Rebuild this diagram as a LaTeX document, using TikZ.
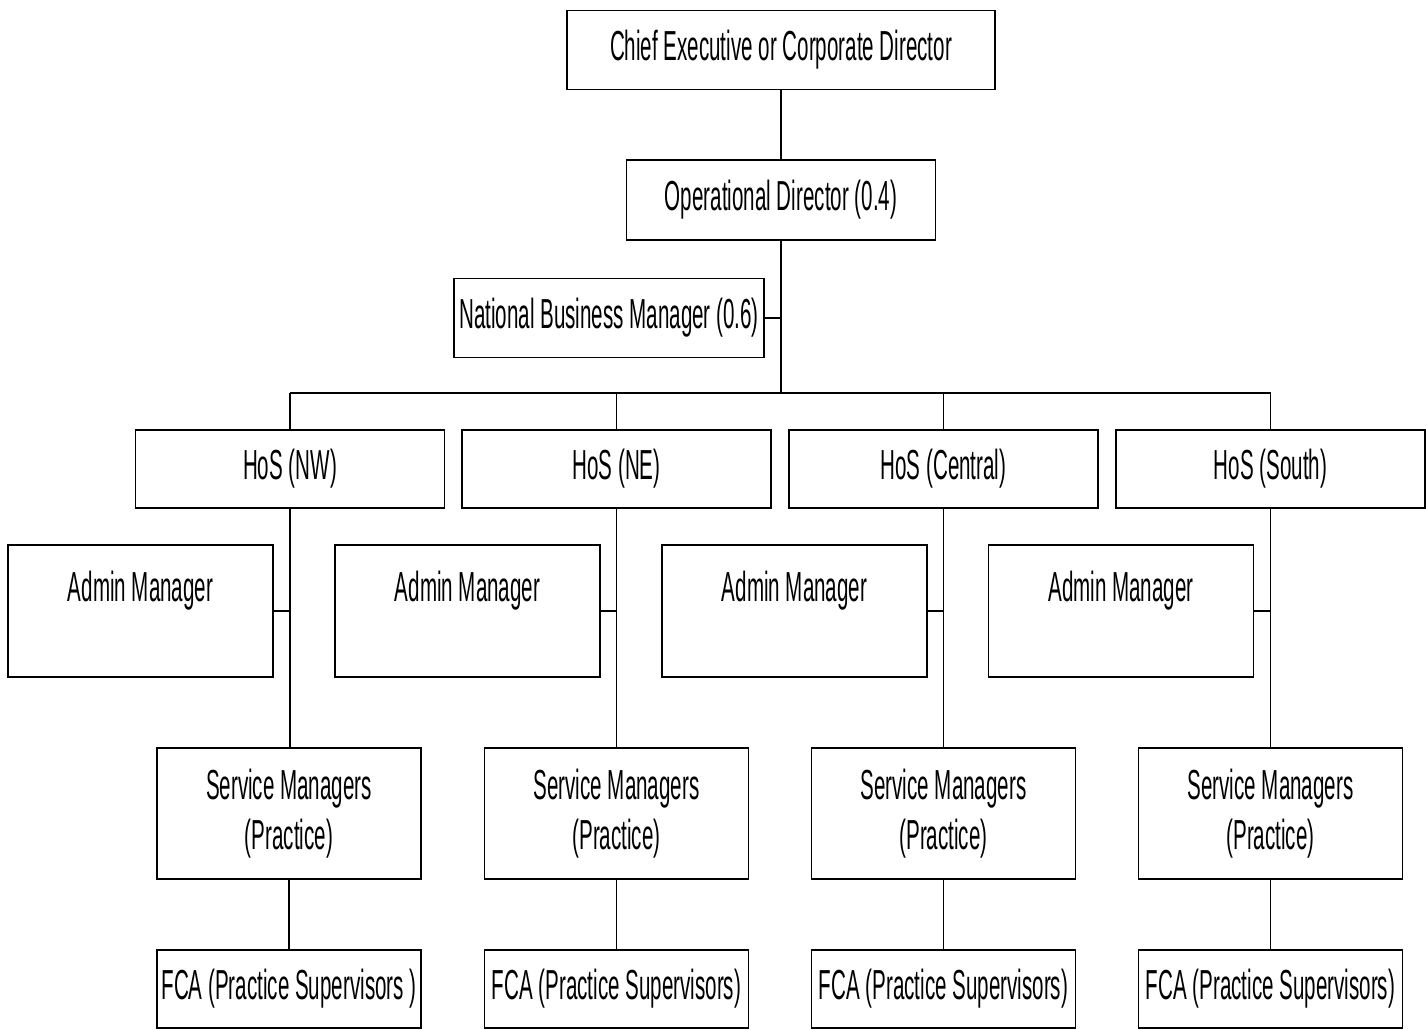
\documentclass[tikz,border=0pt]{standalone}
\usepackage{fontspec}
\setmainfont{Liberation Sans}[FakeStretch=0.49]
\usepackage{tikz}
\usetikzlibrary{positioning,calc}

\begin{document}
\begin{tikzpicture}[x=1pt,y=-1pt,
    box/.style={draw=black,line width=1.5pt,inner sep=0pt,align=center,
      font=\fontsize{42}{50}\selectfont,minimum width=#1},
    box/.default=309pt,
    link/.style={draw=black,line width=1.4pt}
]
\useasboundingbox (0,0) rectangle (1426,1030);
% top of the chart
\node[box=428pt,minimum height=79pt] (chief) at (781,50) {Chief Executive or Corporate Director};
\node[box=309pt,minimum height=80pt] (ops) at (781,200) {Operational Director (0.4)};
\node[box=310pt,minimum height=79pt] (nbm) at (609,318) {National Business Manager (0.6)};
\coordinate (bus) at (781,393);

% heads of service
\node[box,minimum height=78pt] (hosNW) at (290,469) {HoS (NW)};
\node[box,minimum height=78pt] (hosNE) at (616.5,469) {HoS (NE)};
\node[box,minimum height=78pt] (hosC) at (943.5,469) {HoS (Central)};
\node[box,minimum height=78pt] (hosS) at (1270.5,469) {HoS (South)};

% admin managers
\node[box=265pt,minimum height=132pt] (admNW) at (140.5,611) {Admin Manager\\~};
\node[box=265pt,minimum height=132pt] (admNE) at (467.5,611) {Admin Manager\\~};
\node[box=265pt,minimum height=132pt] (admC) at (794.5,611) {Admin Manager\\~};
\node[box=265pt,minimum height=132pt] (admS) at (1121,611) {Admin Manager\\~};

% service managers
\node[box=264pt,minimum height=131pt] (smNW) at (289,813.5) {Service Managers\\(Practice)};
\node[box=264pt,minimum height=131pt] (smNE) at (616.5,813.5) {Service Managers\\(Practice)};
\node[box=264pt,minimum height=131pt] (smC) at (943.5,813.5) {Service Managers\\(Practice)};
\node[box=264pt,minimum height=131pt] (smS) at (1270.5,813.5) {Service Managers\\(Practice)};

% practice supervisors
\node[box=264pt,minimum height=78pt] (fcaNW) at (289,989) {FCA (Practice Supervisors )};
\node[box=264pt,minimum height=78pt] (fcaNE) at (616.5,989) {FCA (Practice Supervisors)};
\node[box=264pt,minimum height=78pt] (fcaC) at (943.5,989) {FCA (Practice Supervisors)};
\node[box=264pt,minimum height=78pt] (fcaS) at (1270.5,989) {FCA (Practice Supervisors)};

\draw[link] (chief) -- (ops);
\draw[link] (ops) -- (bus);
\draw[link] (nbm.east) -- (nbm.east -| bus);
\draw[link] (hosNW.north |- bus) -- (hosS.north |- bus);
\draw[link] (hosNW) -- (hosNW.north |- bus);
\draw[link] (hosNE) -- (hosNE.north |- bus);
\draw[link] (hosC) -- (hosC.north |- bus);
\draw[link] (hosS) -- (hosS.north |- bus);

\draw[link] (hosNW) -- (hosNW.south |- smNW.north);
\draw[link] (hosNE) -- (hosNE.south |- smNE.north);
\draw[link] (hosC) -- (hosC.south |- smC.north);
\draw[link] (hosS) -- (hosS.south |- smS.north);
\draw[link] (admNW.east) -- (admNW.east -| hosNW);
\draw[link] (admNE.east) -- (admNE.east -| hosNE);
\draw[link] (admC.east) -- (admC.east -| hosC);
\draw[link] (admS.east) -- (admS.east -| hosS);

\draw[link] (smNW) -- (fcaNW);
\draw[link] (smNE) -- (fcaNE);
\draw[link] (smC) -- (fcaC);
\draw[link] (smS) -- (fcaS);
\end{tikzpicture}
\end{document}
